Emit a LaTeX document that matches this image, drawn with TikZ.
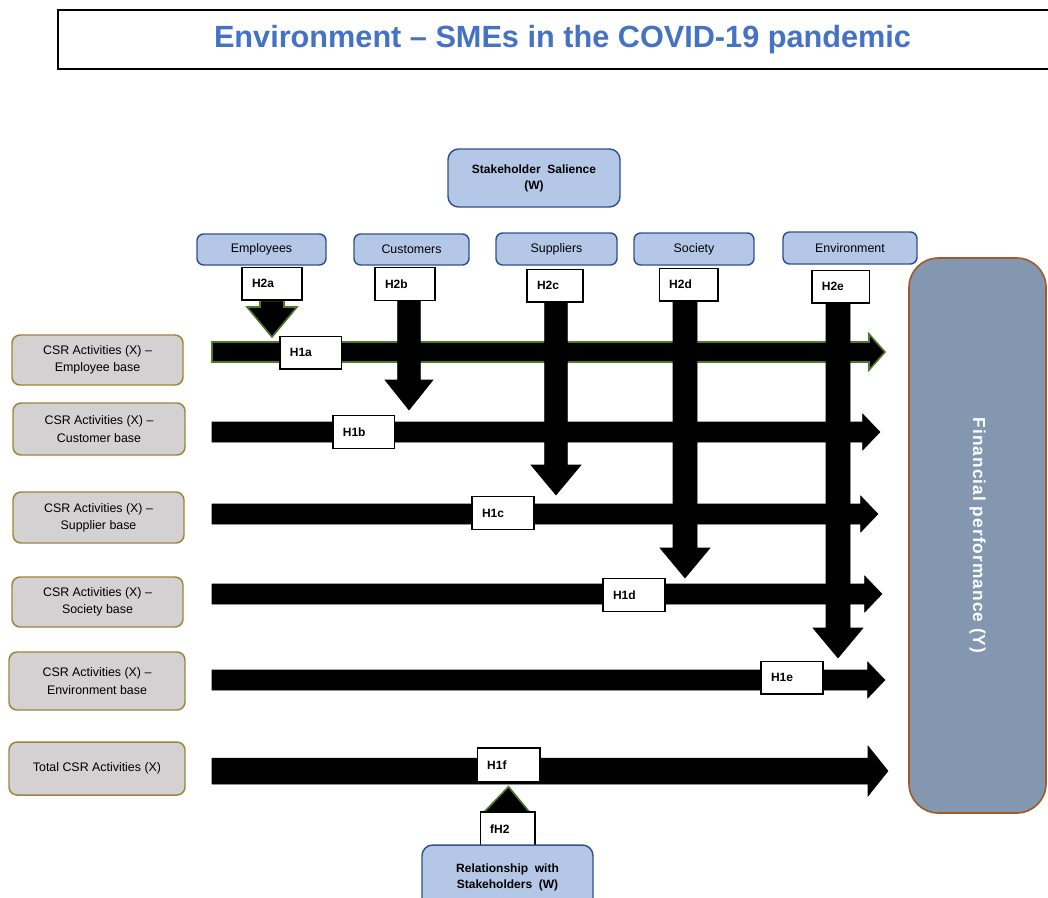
\documentclass[tikz,border=0pt]{standalone}
\usepackage{fontspec}
\setmainfont{Liberation Sans}
\newfontfamily\finfont[LetterSpace=6]{Liberation Sans}
\usetikzlibrary{calc}
\definecolor{shfill}{HTML}{B4C7E7}
\definecolor{shdraw}{HTML}{2F528F}
\definecolor{csrfill}{HTML}{D3D1D1}
\definecolor{csrdraw}{HTML}{9C8538}
\definecolor{finfill}{HTML}{8497B0}
\definecolor{findraw}{HTML}{9E5A2B}
\definecolor{titleblue}{HTML}{4472C4}
\definecolor{grn}{HTML}{4E7A2A}
\pgfdeclarelayer{back}
\pgfdeclarelayer{bg}
\pgfsetlayers{back,bg,main}
% #1 from, #2 tip, #3 half shaft, #4 half head, #5 head length, #6 style
\newcommand{\blockarrow}[6]{%
  \coordinate (ba-h) at ($(#2)!#5!(#1)$);
  \filldraw[#6] ($(#1)!#3!90:(#2)$) -- ($(ba-h)!#3!-90:(#1)$) -- ($(ba-h)!#4!-90:(#1)$) -- (#2)
    -- ($(ba-h)!#4!90:(#1)$) -- ($(ba-h)!#3!90:(#1)$) -- ($(#1)!#3!-90:(#2)$) -- cycle;}
\begin{document}
\begin{tikzpicture}[x=0.75pt,y=-0.75pt,
  wh/.style 2 args={minimum width=#1*0.75pt, minimum height=#2*0.75pt, inner sep=0pt},
  sh/.style={draw=shdraw, fill=shfill, line width=1.1pt, rounded corners=5pt,
    font=\fontsize{9.3}{11}\selectfont, align=center},
  shb/.style={sh, rounded corners=8pt, font=\bfseries\fontsize{9}{12}\selectfont},
  csr/.style={draw=csrdraw, fill=csrfill, line width=1.1pt, rounded corners=6pt,
    font=\fontsize{9.3}{13}\selectfont, align=center},
  hbox/.style={draw=black, fill=white, line width=1pt, font=\bfseries\fontsize{9}{11}\selectfont,
    align=left, inner xsep=7.5pt, inner ysep=0pt, text width=#1, minimum height=24.5pt},
  hbox/.default=30pt,
  blk/.style={fill=black, draw=black, line width=0.4pt},
  gblk/.style={fill=black, draw=grn, line width=1.2pt}
]
\clip (0,0) rectangle (1048,897);
\begin{pgfonlayer}{back}
\fill[white] (0,0) rectangle (1048,897);
\end{pgfonlayer}

% title
\node[draw=black, line width=1.2pt, wh={1009}{59}, font=\bfseries\fontsize{23}{27}\selectfont,
  text=titleblue] (title) at (562.5,39.5) {Environment -- SMEs in the COVID-19 pandemic};

% stakeholder salience
\node[shb, wh={172}{58}] (sal) at (534,178) {Stakeholder\ \ Salience\\(W)};
\node[sh, wh={129}{31}] (emp) at (261.5,249.5) {Employees};
\node[sh, wh={115}{31}] (cus) at (411.5,249.5) {Customers};
\node[sh, wh={121}{32}] (sup) at (556.5,249) {Suppliers};
\node[sh, wh={120}{32}] (soc) at (694,249) {Society};
\node[sh, wh={134}{32}] (env) at (850,248) {Environment};

% H2 boxes
\node[hbox] (h2a) at (272,283.5) {H2a};
\node[hbox] (h2b) at (405,284) {H2b};
\node[hbox=27pt] (h2c) at (555,285.5) {H2c};
\node[hbox=29pt] (h2d) at (688.5,284.5) {H2d};
\node[hbox=28pt] (h2e) at (840.5,286.5) {H2e};

% CSR boxes
\node[csr, wh={171}{50}] (c1) at (97.5,360) {CSR Activities (X) --\\Employee base};
\node[csr, wh={172}{52}] (c2) at (99,429) {CSR Activities (X) --\\Customer base};
\node[csr, wh={171}{51}] (c3) at (98.5,517.5) {CSR Activities (X) --\\Supplier base};
\node[csr, wh={171}{50}] (c4) at (97.5,602) {CSR Activities (X) --\\Society base};
\node[csr, wh={176}{58}] (c5) at (97,681) {CSR Activities (X) --\\Environment base};
\node[csr, wh={176}{53}] (c6) at (97,768.5) {Total CSR Activities (X)};

% H1 boxes
\node[hbox=31pt] (h1a) at (310.5,352.5) {H1a};
\node[hbox=31pt] (h1b) at (363.5,432) {H1b};
\node[hbox=31.5pt] (h1c) at (503,513) {H1c};
\node[hbox=31.5pt] (h1d) at (634,595) {H1d};
\node[hbox=31.5pt] (h1e) at (792,677.5) {H1e};
\node[hbox=32pt, minimum height=25.5pt] (h1f) at (508.5,765) {H1f};
\node[hbox=26pt, minimum height=25.5pt] (fh2) at (507.5,829) {fH2};

% relationship
\node[shb, wh={171}{65}] (rel) at (507.5,877.5) {Relationship\ \ with\\Stakeholders\ \ (W)};

% financial performance
\node[draw=findraw, fill=finfill, line width=1.2pt, rounded corners=22pt, wh={555}{137},
  rotate=-90, text=white, font=\finfont\bfseries\fontsize{13}{16}\selectfont] (fin)
  at (977.5,535.5) {Financial performance (Y)};

% arrow end points
\coordinate (s1) at (212,352);  \coordinate (e1) at (885,352);
\coordinate (s2) at (212,432);  \coordinate (e2) at (880,432);
\coordinate (s3) at (212,514);  \coordinate (e3) at (878,514);
\coordinate (s4) at (212,594);  \coordinate (e4) at (882,594);
\coordinate (s5) at (212,680);  \coordinate (e5) at (885,680);
\coordinate (s6) at (212,771);  \coordinate (e6) at (888,771);
\coordinate (t2a) at (272,337);
\coordinate (t2b) at (409,410);
\coordinate (t2c) at (556,495);
\coordinate (t2d) at (685,578);
\coordinate (t2e) at (838,658);
\coordinate (fb) at ($(fh2.north)+(0,2)$);
\coordinate (tf) at ($(h1f.south)+(0,4)$);

\begin{pgfonlayer}{bg}
\blockarrow{s1}{e1}{7.5pt}{13.5pt}{12pt}{gblk}
\blockarrow{s2}{e2}{7.5pt}{13.5pt}{13pt}{blk}
\blockarrow{s3}{e3}{7.5pt}{13.5pt}{13pt}{blk}
\blockarrow{s4}{e4}{7.5pt}{13.5pt}{13pt}{blk}
\blockarrow{s5}{e5}{7.5pt}{13.5pt}{13pt}{blk}
\blockarrow{s6}{e6}{9.75pt}{18.75pt}{15pt}{blk}
\blockarrow{h2a.south}{t2a}{9pt}{18.75pt}{22.5pt}{gblk}
\blockarrow{h2b.south -| t2b}{t2b}{8.5pt}{18pt}{22.5pt}{blk}
\blockarrow{h2c.south -| t2c}{t2c}{8.5pt}{18.75pt}{22.5pt}{blk}
\blockarrow{h2d.south -| t2d}{t2d}{9pt}{18.75pt}{22.5pt}{blk}
\blockarrow{h2e.south -| t2e}{t2e}{9pt}{18.75pt}{22.5pt}{blk}
\blockarrow{fb}{tf}{9pt}{18.75pt}{21pt}{gblk}
\end{pgfonlayer}
\end{tikzpicture}
\end{document}
